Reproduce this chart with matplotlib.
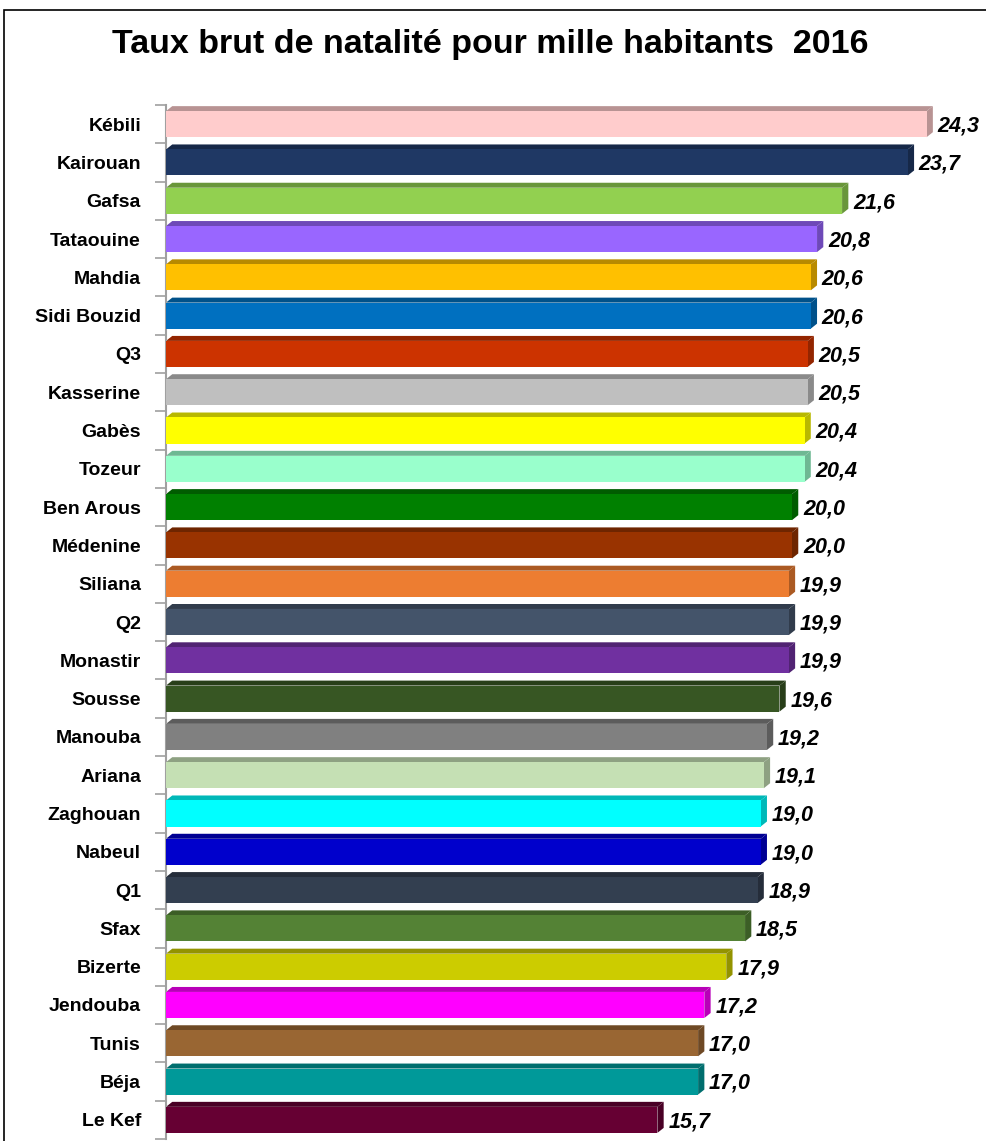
import matplotlib

matplotlib.use('Agg')

import matplotlib.pyplot as plt
import numpy as np
from matplotlib import colors as mcolors
from matplotlib.patches import Rectangle

FONT = ['Liberation Sans', 'DejaVu Sans']

regions = ['Kébili', 'Kairouan', 'Gafsa', 'Tataouine', 'Mahdia', 'Sidi Bouzid', 'Q3',
           'Kasserine', 'Gabès', 'Tozeur', 'Ben Arous', 'Médenine', 'Siliana', 'Q2',
           'Monastir', 'Sousse', 'Manouba', 'Ariana', 'Zaghouan', 'Nabeul', 'Q1',
           'Sfax', 'Bizerte', 'Jendouba', 'Tunis', 'Béja', 'Le Kef']
rates = [24.3, 23.7, 21.6, 20.8, 20.6, 20.6, 20.5, 20.5, 20.4, 20.4, 20.0, 20.0,
         19.9, 19.9, 19.9, 19.6, 19.2, 19.1, 19.0, 19.0, 18.9, 18.5, 17.9, 17.2,
         17.0, 17.0, 15.7]
bar_colors = ['#FFCCCC', '#1F3864', '#92D050', '#9966FF', '#FFC000', '#0070C0', '#CC3300',
              '#BFBFBF', '#FFFF00', '#99FFCC', '#008000', '#993300', '#ED7D31', '#44546A',
              '#7030A0', '#375623', '#808080', '#C5E0B4', '#00FFFF', '#0000CC', '#333F50',
              '#548235', '#CCCC00', '#FF00FF', '#996633', '#009999', '#660033']
title = 'Taux brut de natalité pour mille habitants  2016'

W, H = 986, 1141
fig = plt.figure(figsize=(W / 100, H / 100), dpi=100)
fig.patch.set_facecolor('white')

# frame of the chart area (cut off on the right and bottom)
fig.add_artist(Rectangle((4 / W, -0.1), 1.2, 1 - 10 / H + 0.1, transform=fig.transFigure,
                         fill=False, edgecolor='black', linewidth=1.2))

fig.text(490 / W, 1 - 45 / H, title, ha='center', va='center', fontsize=24.5,
         fontweight='bold', family=FONT)

ax_left, ax_top, ax_bottom = 166, 105, 1139
ax = fig.add_axes([ax_left / W, 1 - ax_bottom / H, (W - ax_left) / W, (ax_bottom - ax_top) / H])
ax.set_xlim(0, (W - ax_left) / 31.3)
ax.set_ylim(len(regions) - 0.5, -0.5)

y = np.arange(len(regions))
bar_h = 0.68
dx, dy = 0.2, 0.13  # 3D depth in data units

for yi, v, c in zip(y, rates, bar_colors):
    dark = tuple(np.array(mcolors.to_rgb(c)) * 0.72)
    top = yi - bar_h / 2
    bot = yi + bar_h / 2
    # top face
    ax.fill([0, v, v + dx, dx], [top, top, top - dy, top - dy], color=dark, lw=0, zorder=2)
    # right face
    ax.fill([v, v + dx, v + dx, v], [top, top - dy, bot - dy, bot], color=dark, lw=0, zorder=2)

ax.barh(y, rates, height=bar_h, color=bar_colors, edgecolor='none', zorder=3)

for yi, v in zip(y, rates):
    ax.text(v + dx + 0.15, yi + 0.05, f'{v:.1f}'.replace('.', ','), ha='left', va='center',
            fontsize=15.5, fontweight='bold', fontstyle='italic', family=FONT, clip_on=False)

ax.set_yticks(y)
ax.set_yticklabels(regions, fontsize=14, fontweight='bold', family=FONT)
ax.tick_params(axis='y', which='major', length=0, pad=18)
ax.set_yticks(np.arange(-0.5, len(regions), 1.0), minor=True)
ax.tick_params(axis='y', which='minor', length=8, color='#A0A0A0', width=1.2)
ax.set_xticks([])

for side in ['top', 'right', 'bottom']:
    ax.spines[side].set_visible(False)
ax.spines['left'].set_color('#A0A0A0')
ax.spines['left'].set_linewidth(1.5)
ax.set_facecolor('none')

fig.savefig('out.png', dpi=100)
